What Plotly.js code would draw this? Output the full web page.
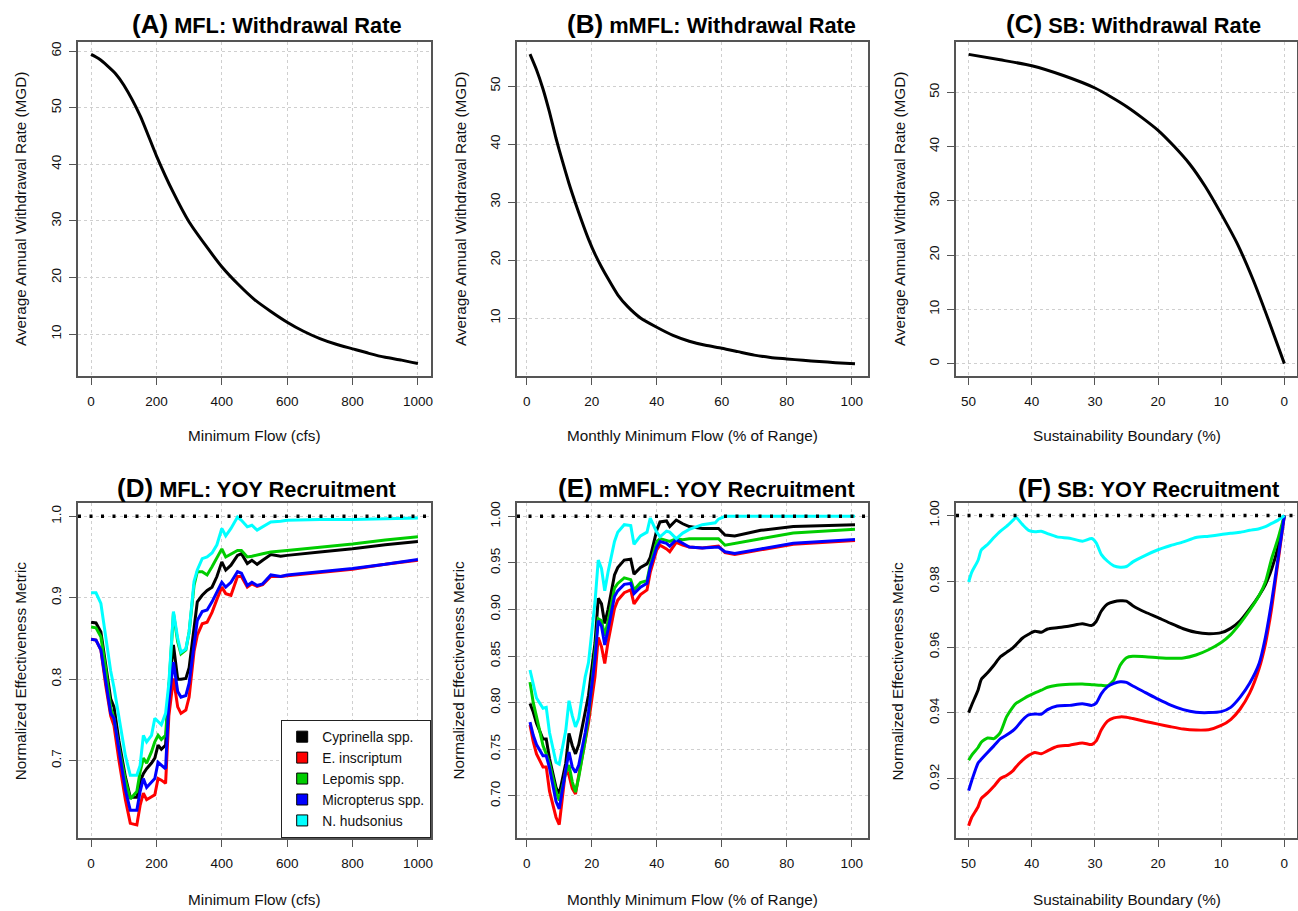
<!DOCTYPE html>
<html>
<head>
<meta charset="utf-8">
<script src="https://cdn.plot.ly/plotly-3.0.1.min.js"></script>
<style>html,body{margin:0;padding:0;background:#fff;}#chart{width:1298px;height:911px;}</style>
</head>
<body>
<div id="chart"></div>
<script>
// ---------------- DATA ----------------
// Panel A: MFL withdrawal rate
const aFlow = [0,25,50,75,100,150,200,250,300,350,400,450,500,550,600,650,700,750,800,850,900,950,1000];
const aWithdrawal = [59.4,58.6,57.4,56.0,54.0,48.6,41.5,35.2,29.8,25.7,21.9,18.8,16.1,14.0,12.1,10.5,9.2,8.2,7.4,6.6,5.9,5.4,4.8];

// Panel B: mMFL withdrawal rate
const bRange = [1,3,5,7,9,11,13,15,17,19,21,23,25,28,31,35,40,45,50,55,60,65,70,75,80,85,90,95,101];
const bWithdrawal = [55.5,52.8,49.5,45.5,41.0,37.0,33.2,29.8,26.6,23.6,21.0,18.8,16.8,14.0,12.0,10.0,8.4,7.0,6.0,5.3,4.8,4.2,3.6,3.2,2.95,2.7,2.5,2.3,2.1];

// Panel C: SB withdrawal rate
const cBoundary = [50,45,40,35,30,27.5,25,22.5,20,17.5,15,12.5,10,7.5,5,2.5,0];
const cWithdrawal = [57.0,56.0,54.9,53.1,50.8,49.2,47.4,45.3,43.0,40.1,36.8,32.6,27.6,22.2,15.6,8.0,0.0];

// Species
const species = ['Cyprinella spp.','E. inscriptum','Lepomis spp.','Micropterus spp.','N. hudsonius'];
const speciesColors = ['#000000','#ff0000','#00cd00','#0000ff','#00ffff'];

// Panel D: MFL YOY recruitment
const dFlow = [0,15,30,45,60,70,85,105,120,140,150,160,170,185,195,205,215,228,238,252,265,275,290,300,315,325,340,355,370,385,400,412,428,448,460,478,492,508,525,550,580,600,700,800,900,1000];
const dCyprinella = [0.870,0.869,0.858,0.815,0.776,0.766,0.725,0.680,0.655,0.655,0.674,0.684,0.690,0.697,0.703,0.719,0.714,0.719,0.790,0.842,0.800,0.800,0.801,0.814,0.860,0.895,0.903,0.909,0.913,0.926,0.944,0.934,0.940,0.952,0.954,0.942,0.946,0.941,0.946,0.953,0.951,0.952,0.956,0.960,0.965,0.969];
const dInscriptum = [0.849,0.848,0.836,0.792,0.755,0.743,0.701,0.652,0.623,0.621,0.645,0.660,0.652,0.656,0.658,0.678,0.676,0.672,0.755,0.801,0.766,0.758,0.762,0.778,0.834,0.854,0.868,0.870,0.882,0.898,0.913,0.905,0.903,0.926,0.926,0.913,0.917,0.914,0.916,0.926,0.926,0.927,0.931,0.935,0.941,0.946];
const dLepomis = [0.864,0.863,0.852,0.812,0.765,0.752,0.717,0.676,0.653,0.662,0.686,0.703,0.697,0.711,0.723,0.731,0.726,0.731,0.790,0.881,0.846,0.831,0.836,0.858,0.915,0.932,0.932,0.928,0.938,0.950,0.960,0.950,0.954,0.958,0.958,0.950,0.951,0.952,0.954,0.956,0.957,0.958,0.962,0.966,0.971,0.975];
const dMicropterus = [0.849,0.848,0.836,0.797,0.758,0.752,0.713,0.664,0.639,0.639,0.662,0.678,0.667,0.674,0.678,0.698,0.694,0.690,0.773,0.821,0.785,0.778,0.780,0.795,0.842,0.872,0.883,0.885,0.895,0.907,0.919,0.913,0.919,0.932,0.930,0.915,0.919,0.915,0.917,0.928,0.926,0.928,0.932,0.936,0.941,0.947];
const dHudsonius = [0.906,0.906,0.893,0.850,0.810,0.790,0.752,0.706,0.682,0.682,0.694,0.731,0.723,0.731,0.752,0.748,0.744,0.758,0.795,0.883,0.850,0.833,0.837,0.858,0.920,0.934,0.948,0.950,0.955,0.965,0.985,0.976,0.985,0.999,0.995,0.987,0.989,0.983,0.987,0.993,0.994,0.995,0.996,0.996,0.997,0.998];

// Panel E: mMFL YOY recruitment
const eRange = [1,2,3,5,6,7,9,10,12,13,14,15,16,18,19,21,22,23,24,25,27,28,30,32,33,35,37,38,40,41,43,44,46,48,50,54,58,59,61,64,72,82,101];
const eCyprinella = [0.799,0.790,0.778,0.761,0.761,0.740,0.709,0.702,0.735,0.767,0.754,0.745,0.755,0.790,0.808,0.864,0.912,0.906,0.885,0.900,0.937,0.945,0.953,0.954,0.938,0.945,0.949,0.956,0.985,0.994,0.995,0.989,0.996,0.992,0.989,0.987,0.987,0.987,0.980,0.979,0.985,0.989,0.991];
const eInscriptum = [0.776,0.758,0.745,0.731,0.731,0.705,0.677,0.669,0.729,0.722,0.708,0.702,0.722,0.758,0.778,0.828,0.870,0.860,0.842,0.865,0.901,0.910,0.918,0.921,0.906,0.916,0.921,0.940,0.964,0.969,0.965,0.962,0.972,0.969,0.967,0.966,0.968,0.968,0.961,0.959,0.964,0.970,0.974];
const eLepomis = [0.822,0.800,0.785,0.754,0.745,0.735,0.705,0.695,0.725,0.733,0.715,0.704,0.720,0.760,0.785,0.850,0.890,0.888,0.872,0.887,0.923,0.928,0.934,0.932,0.921,0.929,0.931,0.948,0.973,0.976,0.974,0.973,0.976,0.975,0.976,0.976,0.976,0.976,0.969,0.971,0.976,0.982,0.986];
const eMicropterus = [0.779,0.765,0.755,0.743,0.743,0.730,0.694,0.686,0.728,0.747,0.731,0.725,0.733,0.768,0.790,0.847,0.888,0.882,0.862,0.878,0.914,0.920,0.927,0.928,0.917,0.924,0.928,0.945,0.967,0.973,0.971,0.968,0.975,0.971,0.967,0.966,0.967,0.967,0.962,0.960,0.965,0.971,0.975];
const eHudsonius = [0.835,0.819,0.805,0.794,0.795,0.768,0.736,0.734,0.770,0.802,0.786,0.774,0.783,0.828,0.843,0.908,0.953,0.944,0.920,0.940,0.973,0.983,0.991,0.990,0.970,0.979,0.983,0.998,0.983,0.978,0.984,0.983,0.976,0.982,0.986,0.991,0.993,0.997,1.000,1.000,1.000,1.000,1.000];

// Panel F: SB YOY recruitment
const fBoundary = [50,49.5,48.5,48,47,46,45,44,43,42.5,41.5,40.5,39.5,38.5,37.5,36,34,32,30.5,29.8,29,28,27,26,25,24,22,20,18,16,14,12,10,8.5,7,5.5,4,3,2,1,0];
const fCyprinella = [0.9401,0.9425,0.9470,0.9502,0.9522,0.9545,0.9570,0.9584,0.9598,0.9607,0.9627,0.9639,0.9648,0.9645,0.9655,0.9659,0.9664,0.9671,0.9666,0.9678,0.9709,0.9731,0.9738,0.9741,0.9740,0.9726,0.9706,0.9690,0.9672,0.9656,0.9645,0.9641,0.9644,0.9657,0.9680,0.9716,0.9757,0.9790,0.9838,0.9905,1.0];
const fInscriptum = [0.9057,0.9083,0.9115,0.9140,0.9157,0.9177,0.9200,0.9210,0.9224,0.9236,0.9256,0.9271,0.9280,0.9276,0.9285,0.9298,0.9302,0.9309,0.9304,0.9315,0.9348,0.9375,0.9385,0.9388,0.9387,0.9383,0.9374,0.9366,0.9358,0.9351,0.9348,0.9349,0.9362,0.9380,0.9412,0.9460,0.9535,0.9610,0.9720,0.9860,1.0];
const fLepomis = [0.9256,0.9272,0.9295,0.9311,0.9324,0.9322,0.9340,0.9388,0.9418,0.9429,0.9441,0.9452,0.9461,0.9469,0.9478,0.9484,0.9487,0.9488,0.9486,0.9485,0.9484,0.9483,0.9500,0.9545,0.9568,0.9572,0.9571,0.9568,0.9566,0.9567,0.9576,0.9592,0.9614,0.9638,0.9672,0.9712,0.9757,0.9798,0.9870,0.9930,1.0];
const fMicropterus = [0.9164,0.9195,0.9248,0.9259,0.9280,0.9300,0.9321,0.9333,0.9346,0.9355,0.9378,0.9394,0.9397,0.9396,0.9410,0.9421,0.9423,0.9428,0.9423,0.9430,0.9458,0.9480,0.9490,0.9495,0.9493,0.9482,0.9462,0.9442,0.9424,0.9410,0.9402,0.9401,0.9404,0.9417,0.9448,0.9490,0.9550,0.9630,0.9740,0.9870,1.0];
const fHudsonius = [0.9798,0.9828,0.9864,0.9895,0.9912,0.9933,0.9952,0.9967,0.9985,0.9994,0.9973,0.9955,0.9951,0.9952,0.9945,0.9935,0.9931,0.9922,0.9930,0.9917,0.9882,0.9861,0.9847,0.9843,0.9845,0.9859,0.9879,0.9896,0.9909,0.9920,0.9933,0.9937,0.9942,0.9946,0.9949,0.9955,0.9960,0.9966,0.9976,0.9986,1.0];

const refLevel = 1.0;

// Tick labels
const flowTicks = [0,200,400,600,800,1000];
const rangeTicks = [0,20,40,60,80,100];
const boundaryTicks = [50,40,30,20,10,0];
const aYTicks = [10,20,30,40,50,60];
const bYTicks = [10,20,30,40,50];
const cYTicks = [0,10,20,30,40,50];
const dYTicks = [0.7,0.8,0.9,1.0];
const eYTicks = [0.70,0.75,0.80,0.85,0.90,0.95,1.00];
const fYTicks = [0.92,0.94,0.96,0.98,1.00];

const panelTitles = [
  ['(A)','MFL: Withdrawal Rate'],['(B)','mMFL: Withdrawal Rate'],['(C)','SB: Withdrawal Rate'],
  ['(D)','MFL: YOY Recruitment'],['(E)','mMFL: YOY Recruitment'],['(F)','SB: YOY Recruitment']
];
const xTitles = ['Minimum Flow (cfs)','Monthly Minimum Flow (% of Range)','Sustainability Boundary (%)'];
const yTitleTop = 'Average Annual Withdrawal Rate (MGD)';
const yTitleBottom = 'Normalized Effectiveness Metric';

// ---------------- LAYOUT HELPERS ----------------
const W = 1298, H = 911;
const px = v => v / W;
const py = v => 1 - v / H;
const FONT = 'Liberation Sans, Arial, Helvetica, sans-serif';

const colPx = [[78,431],[517,868],[956,1297]];
const rowPx = [[42,376],[503,838]];
const titleCx = [[267,711,1133.5],[256.7,706,1148]];
const titleCy = [24,487.5];
const yTitleCx = [[20,460,899],[20.7,458,897]];
const xTitleCy = [435,899];

function xAxis(col, row, range, ticks, anchor) {
  return {
    domain: [px(colPx[col][0]), px(colPx[col][1])],
    range: range, anchor: anchor,
    tickmode: 'array', tickvals: ticks, ticktext: ticks.map(String),
    showgrid: true, gridcolor: '#cfcfcf', griddash: 'dot', gridwidth: 1,
    zeroline: false, showline: true, mirror: true, linecolor: '#555', linewidth: 1.5,
    ticks: 'outside', ticklen: 7, tickwidth: 1.2, tickcolor: '#555',
    ticklabelstandoff: 5,
    tickfont: {family: FONT, size: 13.5, color: '#111'}, fixedrange: true
  };
}
function yAxis(row, range, ticks, fmt, anchor) {
  return {
    domain: [py(rowPx[row][1]), py(rowPx[row][0])],
    range: range, anchor: anchor,
    tickmode: 'array', tickvals: ticks, ticktext: ticks.map(v => v.toFixed(fmt)),
    showgrid: true, gridcolor: '#cfcfcf', griddash: 'dot', gridwidth: 1,
    zeroline: false, showline: true, mirror: true, linecolor: '#555', linewidth: 1.5,
    ticks: 'outside', ticklen: 7, tickwidth: 1.2, tickcolor: '#555',
    tickangle: -90, ticklabelstandoff: 3,
    tickfont: {family: FONT, size: 13.5, color: '#111'}, fixedrange: true
  };
}

// ---------------- TRACES ----------------
const traces = [];
function curve(x, y, xa, ya, color, shape) {
  traces.push({type: 'scatter', mode: 'lines', x: x, y: y, xaxis: xa, yaxis: ya,
    line: {color: color, width: 3, shape: shape || 'linear', smoothing: 0.6},
    showlegend: false, hoverinfo: 'x+y'});
}
curve(aFlow, aWithdrawal, 'x', 'y', '#000', 'spline');
curve(bRange, bWithdrawal, 'x2', 'y2', '#000', 'spline');
curve(cBoundary, cWithdrawal, 'x3', 'y3', '#000', 'spline');

const dSeries = [dCyprinella, dInscriptum, dLepomis, dMicropterus, dHudsonius];
const eSeries = [eCyprinella, eInscriptum, eLepomis, eMicropterus, eHudsonius];
const fSeries = [fCyprinella, fInscriptum, fLepomis, fMicropterus, fHudsonius];
dSeries.forEach((s, i) => curve(dFlow, s, 'x4', 'y4', speciesColors[i]));
eSeries.forEach((s, i) => curve(eRange, s, 'x5', 'y5', speciesColors[i]));
fSeries.forEach((s, i) => curve(fBoundary, s, 'x6', 'y6', speciesColors[i], 'spline'));

// legend entries (filled squares)
species.forEach((name, i) => {
  traces.push({type: 'scatter', mode: 'markers', x: [null], y: [null], xaxis: 'x4', yaxis: 'y4',
    name: name, showlegend: true,
    marker: {symbol: 'square', size: 11, color: speciesColors[i], line: {color: '#000', width: 1}}});
});

// ---------------- LAYOUT ----------------
const annotations = [];
panelTitles.forEach((t, k) => {
  const row = Math.floor(k / 3), col = k % 3;
  annotations.push({xref: 'paper', yref: 'paper', x: px(titleCx[row][col]), y: py(titleCy[row]),
    xanchor: 'center', yanchor: 'middle', showarrow: false,
    text: '<b><span style="font-size:26px">' + t[0] + '</span> ' + t[1] + '</b>',
    font: {family: FONT, size: 21.8, color: '#000'}});
  annotations.push({xref: 'paper', yref: 'paper', x: px((colPx[col][0] + colPx[col][1]) / 2), y: py(xTitleCy[row]),
    xanchor: 'center', yanchor: 'middle', showarrow: false, text: xTitles[col],
    font: {family: FONT, size: 15.3, color: '#111'}});
  annotations.push({xref: 'paper', yref: 'paper', x: px(yTitleCx[row][col]), y: py((rowPx[row][0] + rowPx[row][1]) / 2),
    xanchor: 'center', yanchor: 'middle', showarrow: false, textangle: -90,
    text: row === 0 ? yTitleTop : yTitleBottom,
    font: {family: FONT, size: 15.3, color: '#111'}});
});

const shapes = ['4','5','6'].map(n => ({type: 'line', xref: 'x' + n + ' domain', yref: 'y' + n,
  x0: 0, x1: 1, y0: refLevel, y1: refLevel, layer: 'above',
  line: {color: '#000', width: 3.5, dash: '3px,8.5px'}}));

const layout = {
  width: W, height: H, margin: {l: 0, r: 0, t: 0, b: 0},
  paper_bgcolor: '#fff', plot_bgcolor: '#fff',
  font: {family: FONT, color: '#111'},
  showlegend: true,
  legend: {x: px(431), xanchor: 'right', y: py(838), yanchor: 'bottom',
    bgcolor: '#fff', bordercolor: '#222', borderwidth: 1.2,
    font: {family: FONT, size: 13.8, color: '#111'}, tracegroupgap: 0, itemclick: false},
  xaxis:  xAxis(0, 0, [-40, 1040], flowTicks, 'y'),
  xaxis2: xAxis(1, 0, [-3, 105], rangeTicks, 'y2'),
  xaxis3: xAxis(2, 0, [52, -2], boundaryTicks, 'y3'),
  xaxis4: xAxis(0, 1, [-40, 1040], flowTicks, 'y4'),
  xaxis5: xAxis(1, 1, [-3, 105], rangeTicks, 'y5'),
  xaxis6: xAxis(2, 1, [52, -2], boundaryTicks, 'y6'),
  yaxis:  yAxis(0, [2.6, 61.6], aYTicks, 0, 'x'),
  yaxis2: yAxis(0, [0, 57.6], bYTicks, 0, 'x2'),
  yaxis3: yAxis(0, [-2.28, 59.28], cYTicks, 0, 'x3'),
  yaxis4: yAxis(1, [0.605, 1.0163], dYTicks, 1, 'x4'),
  yaxis5: yAxis(1, [0.6547, 1.0143], eYTicks, 2, 'x5'),
  yaxis6: yAxis(1, [0.902, 1.0038], fYTicks, 2, 'x6'),
  annotations: annotations,
  shapes: shapes
};

Plotly.newPlot('chart', traces, layout, {displayModeBar: false, staticPlot: false});
</script>
</body>
</html>
